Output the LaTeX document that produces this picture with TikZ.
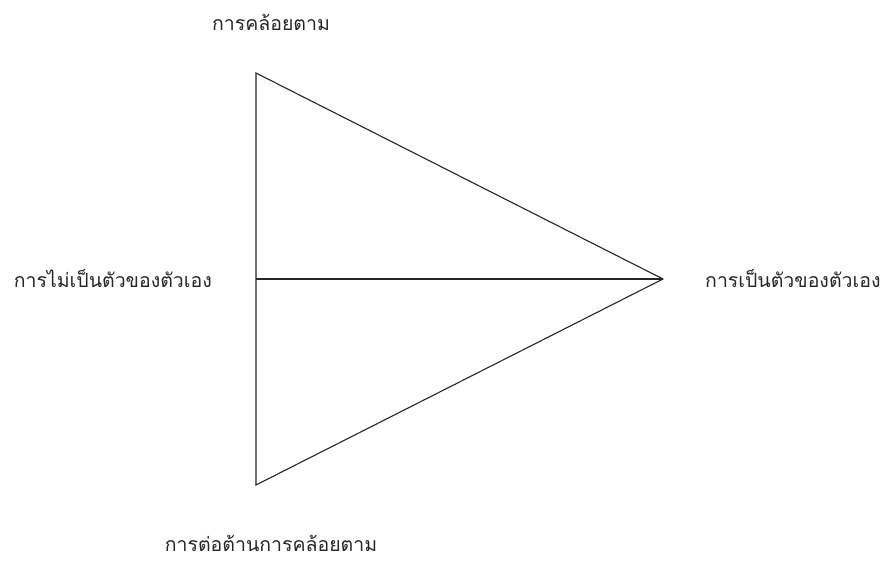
\documentclass[tikz,border=0pt]{standalone}
\usepackage{fontspec}
\newfontfamily\thaifont[Script=Thai]{Loma}
\begin{document}
\begin{tikzpicture}[x=1pt,y=-1pt,
  lbl/.style={font=\thaifont\fontsize{19.5}{22}\selectfont, inner sep=0pt, text=black!85},
  edge/.style={line width=1.1pt, black!85}]
\useasboundingbox (0,0) rectangle (884,560);
\coordinate (T) at (256,73);
\coordinate (B) at (256,485);
\coordinate (M) at (256,279);
\coordinate (A) at (663,279);
\draw[edge, line join=miter] (T) -- (A) -- (B) -- cycle;
\draw[edge] (M) -- (A);
\node[lbl] (top) at (271,22) {การคล้อยตาม};
\node[lbl, anchor=east] (left) at (212,279) {การไม่เป็นตัวของตัวเอง};
\node[lbl, anchor=west] (right) at (705,279) {การเป็นตัวของตัวเอง};
\node[lbl] (bottom) at (271,543) {การต่อต้านการคล้อยตาม};
\end{tikzpicture}
\end{document}
